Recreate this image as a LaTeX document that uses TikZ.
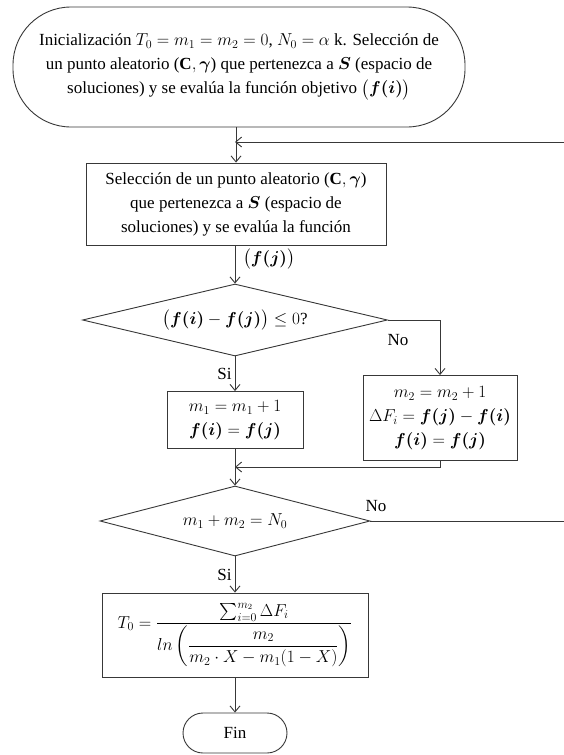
\documentclass[tikz,border=0pt]{standalone}
\usepackage{amsmath,amssymb,bm}
\usepackage{fontspec}
\setmainfont{Liberation Serif}
\usetikzlibrary{positioning,arrows.meta,shapes.geometric}

\begin{document}
\begin{tikzpicture}[x=1pt,y=-1pt,>={Straight Barb[length=6pt,width=10pt]},
  line/.style={draw=black!78,line width=0.9pt},
  txt/.style={font=\fontsize{17}{24}\selectfont,align=center,inner sep=1pt},
  box/.style={txt,line,rectangle},
  cond/.style={txt,line,diamond,inner sep=0pt}]
\useasboundingbox[fill=white] (0,0) rectangle (563,755);
% start / end terminals
\node[txt,line,rounded corners=58pt,minimum width=452pt,minimum height=120pt] (start) at (239,67)
  {Inicialización $T_0=m_1=m_2=0$, $N_0=\alpha$ k. Selección de\\
   un punto aleatorio ($\mathbf{C},\bm{\gamma}$) que pertenezca a $\bm{S}$ (espacio de\\
   soluciones) y se evalúa la función objetivo $\big(\bm{f(i)}\big)$};
\node[txt,line,rounded corners=20pt,minimum width=104pt,minimum height=40pt] (fin) at (235,733) {Fin};
% process boxes
\node[box,minimum width=300pt,minimum height=82pt] (sel) at (236,204)
  {Selección de un punto aleatorio ($\mathbf{C},\bm{\gamma}$)\\
   que pertenezca a $\bm{S}$ (espacio de\\
   soluciones) y se evalúa la función};
\node[txt,inner sep=0pt] (fj) at (269,259) {$\big(\bm{f(j)}\big)$};
\node[box,minimum width=136pt,minimum height=57pt] (m1) at (235,420)
  {$m_1=m_1+1$\\ $\bm{f(i)}=\bm{f(j)}$};
\node[box,minimum width=154pt,minimum height=85pt] (m2) at (440,418)
  {$m_2=m_2+1$\\ $\Delta F_i=\bm{f(j)}-\bm{f(i)}$\\ $\bm{f(i)}=\bm{f(j)}$};
\node[box,inner sep=0pt,minimum width=266pt,minimum height=84pt] (t0) at (235,635)
  {$T_0=\dfrac{\textstyle\sum_{i=0}^{m_2}\Delta F_i}{ln\left(\dfrac{m_2}{m_2\cdot X-m_1(1-X)}\right)}$};
% decisions
\node[cond,aspect=4.2,minimum width=305pt,minimum height=72pt] (dec1) at (235,320)
  {$\big(\bm{f(i)}-\bm{f(j)}\big)\leq 0$?};
\node[cond,aspect=3.9,minimum width=270pt,minimum height=70pt] (dec2) at (235,521)
  {$m_1+m_2=N_0$};
\coordinate (join1) at (235,142);
\coordinate (join2) at (235,467);
\coordinate (back) at (567,521);
% connectors
\draw[line,->] (sel.north |- start.south) -- (sel.north);
\draw[line,->] (sel.south -| dec1.north) -- (dec1.north);
\draw[line,->] (dec1.south) -- node[txt,pos=0.5,left=2pt]{Si} (m1.north);
\draw[line,->] (dec1.east) -| (m2.north);
\node[txt] (no1) at (398,340) {No};
\draw[line,->] (m2.south) |- (join2);
\draw[line,->] (m1.south) -- (dec2.north);
\draw[line,->] (dec2.south) -- node[txt,pos=0.5,left=2pt]{Si} (t0.north);
\draw[line] (dec2.east) -- (back);
\node[txt] (no2) at (376,506) {No};
\draw[line,->] (back) |- (join1);
\draw[line,->] (t0.south) -- (fin.north);
\end{tikzpicture}
\end{document}
